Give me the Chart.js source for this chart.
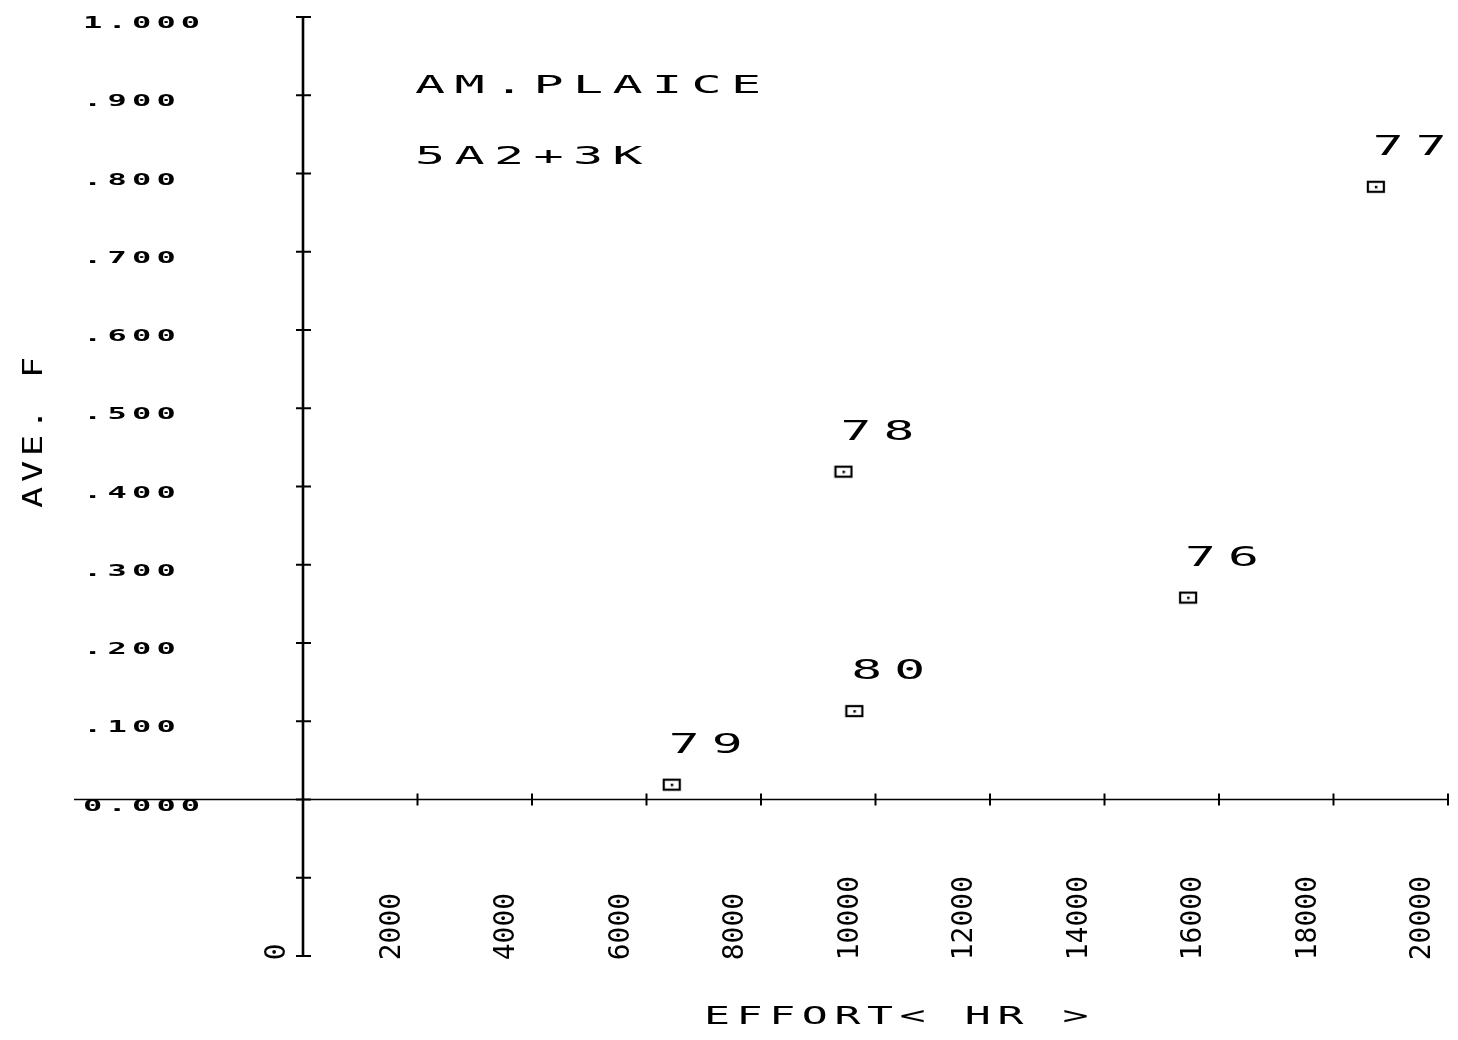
<!DOCTYPE html>
<html>
<head>
<meta charset="utf-8">
<script src="https://cdn.jsdelivr.net/npm/chart.js@4/dist/chart.umd.min.js"></script>
<style>
  html, body { margin: 0; padding: 0; background: #ffffff; }
  #wrap { width: 1458px; height: 1040px; }
</style>
</head>
<body>
<div id="wrap"><canvas id="c" width="1458" height="1040"></canvas></div>
<script>
// ---------------- DATA ----------------
const years = ['76', '77', '78', '79', '80'];
const effortHours = [15460, 18740, 9440, 6440, 9630];
const aveF = [0.258, 0.783, 0.419, 0.019, 0.113];

const xTickValues = [0, 2000, 4000, 6000, 8000, 10000, 12000, 14000, 16000, 18000, 20000];
const xTickLabels = ['0', '2000', '4000', '6000', '8000', '10000', '12000', '14000', '16000', '18000', '20000'];
const yTickValues = [-0.2, -0.1, 0, 0.1, 0.2, 0.3, 0.4, 0.5, 0.6, 0.7, 0.8, 0.9, 1.0];
const yTickLabels = ['', '', '0.000', '.100', '.200', '.300', '.400', '.500', '.600', '.700', '.800', '.900', '1.000'];

const titleLines = ['AM.PLAICE', '5A2+3K'];
const xTitle = 'EFFORT< HR >';
const yTitle = 'AVE. F';

// ---------------- STYLE ----------------
const MONO = '"DejaVu Sans Mono", "Liberation Mono", monospace';
const INK = '#000000';
const labelStyleByAxis = {
  x: { spacing: 0, stretch: 1 },
  y: { spacing: 2.6, stretch: 2.0 }
};

// Scale subclass: letter spacing / horizontal stretch on tick labels, no label clipping
const LinearScale = Chart.registry.getScale('linear');
class SpacedLinearScale extends LinearScale {
  _computeLabelArea() { return null; }
  drawLabels(chartArea) {
    const ctx = this.ctx;
    const cfg = labelStyleByAxis[this.axis] || { spacing: 0, stretch: 1 };
    ctx.save();
    ctx.letterSpacing = cfg.spacing + 'px';
    if (cfg.stretch !== 1) {
      ctx.translate(this.left, 0);
      ctx.scale(cfg.stretch, 1);
      ctx.translate(-this.left, 0);
    }
    super.drawLabels(chartArea);
    ctx.restore();
  }
}
SpacedLinearScale.id = 'spacedLinear';
SpacedLinearScale.defaults = LinearScale.defaults;
Chart.register(SpacedLinearScale);

// marker: small wide rectangle with centre dot
function makeMarker() {
  const c = document.createElement('canvas');
  c.width = 20; c.height = 14;
  const g = c.getContext('2d');
  g.strokeStyle = INK; g.lineWidth = 2.2;
  g.strokeRect(2, 2, 16, 10);
  g.fillStyle = INK;
  g.fillRect(9, 6, 2.5, 2.5);
  return c;
}
const marker = makeMarker();

function spacedText(ctx, text, x, y, opts) {
  ctx.save();
  ctx.translate(x, y);
  if (opts.rotate) ctx.rotate(-Math.PI / 2);
  ctx.scale(opts.stretch || 1, 1);
  ctx.font = (opts.weight || 'normal') + ' ' + opts.size + 'px ' + MONO;
  ctx.fillStyle = INK;
  ctx.textBaseline = 'middle';
  ctx.textAlign = opts.align || 'left';
  const adv = ctx.measureText('0').width;
  ctx.letterSpacing = Math.max(0, opts.pitch / (opts.stretch || 1) - adv) + 'px';
  ctx.fillText(text, 0, 0);
  ctx.restore();
}

const axesPlugin = {
  id: 'crossAxes',
  beforeDatasetsDraw(chart) {
    const ctx = chart.ctx;
    const xs = chart.scales.x, ys = chart.scales.y;
    const x0 = xs.getPixelForValue(0);
    const y0 = ys.getPixelForValue(0);
    ctx.save();
    ctx.strokeStyle = INK;
    ctx.lineCap = 'butt';
    // horizontal axis line through y = 0
    ctx.lineWidth = 1.6;
    ctx.beginPath();
    ctx.moveTo(xs.getPixelForValue(-4000), y0);
    ctx.lineTo(xs.getPixelForValue(xTickValues[xTickValues.length - 1]), y0);
    ctx.stroke();
    // vertical axis line through x = 0
    ctx.lineWidth = 2.6;
    ctx.beginPath();
    ctx.moveTo(x0, ys.getPixelForValue(yTickValues[yTickValues.length - 1]));
    ctx.lineTo(x0, ys.getPixelForValue(yTickValues[0]));
    ctx.stroke();
    // tick marks crossing the axes
    ctx.lineWidth = 2;
    xTickValues.forEach(v => {
      if (v === 0) return;
      const p = xs.getPixelForValue(v);
      ctx.beginPath(); ctx.moveTo(p, y0 - 6); ctx.lineTo(p, y0 + 6); ctx.stroke();
    });
    yTickValues.forEach(v => {
      const p = ys.getPixelForValue(v);
      ctx.beginPath(); ctx.moveTo(x0 - 7, p); ctx.lineTo(x0 + 8, p); ctx.stroke();
    });
    ctx.restore();
  },
  afterDraw(chart) {
    const ctx = chart.ctx;
    const meta = chart.getDatasetMeta(0);
    // point labels
    meta.data.forEach((pt, i) => {
      spacedText(ctx, years[i], pt.x - 3, pt.y - 39, { size: 27, stretch: 1.9, pitch: 43 });
    });
    // titles
    spacedText(ctx, titleLines[0], 415, 86, { size: 25, stretch: 2.0, pitch: 39.5 });
    spacedText(ctx, titleLines[1], 415, 157, { size: 25, stretch: 2.0, pitch: 39.5 });
    // axis titles
    spacedText(ctx, xTitle, 704, 1018, { size: 24, stretch: 1.8, pitch: 32.6 });
    spacedText(ctx, yTitle, 35, 508, { size: 27, stretch: 1.3, pitch: 26, rotate: true });
  }
};

new Chart(document.getElementById('c'), {
  type: 'scatter',
  data: {
    datasets: [{
      label: 'AVE. F',
      data: effortHours.map((x, i) => ({ x: x, y: aveF[i] })),
      pointStyle: marker,
      pointRadius: 8,
      showLine: false
    }]
  },
  options: {
    responsive: false,
    devicePixelRatio: 1,
    animation: false,
    layout: { autoPadding: false, padding: { left: 83, right: 10, top: 17, bottom: 0 } },
    plugins: { legend: { display: false }, tooltip: { enabled: false } },
    scales: {
      x: {
        type: 'spacedLinear',
        position: 'bottom',
        min: 0, max: 20000,
        grid: { display: false },
        border: { display: false },
        afterBuildTicks: s => { s.ticks = xTickValues.map(v => ({ value: v })); },
        afterFit: s => { s.height = 84; },
        ticks: {
          autoSkip: false,
          minRotation: 90, maxRotation: 90,
          padding: -88,
          labelOffset: -25,
          color: INK,
          font: { family: MONO, size: 28 },
          callback: (v, i) => xTickLabels[i].padEnd(5, ' ')
        }
      },
      y: {
        type: 'spacedLinear',
        position: 'left',
        min: -0.2, max: 1.0,
        grid: { display: false },
        border: { display: false },
        afterBuildTicks: s => { s.ticks = yTickValues.map(v => ({ value: v })); },
        afterFit: s => { s.width = 220; },
        ticks: {
          crossAlign: 'far',
          padding: 0,
          labelOffset: 7,
          color: INK,
          font: { family: MONO, size: 16, weight: 'bold' },
          callback: (v, i) => yTickLabels[i]
        }
      }
    }
  },
  plugins: [axesPlugin]
});
</script>
</body>
</html>
